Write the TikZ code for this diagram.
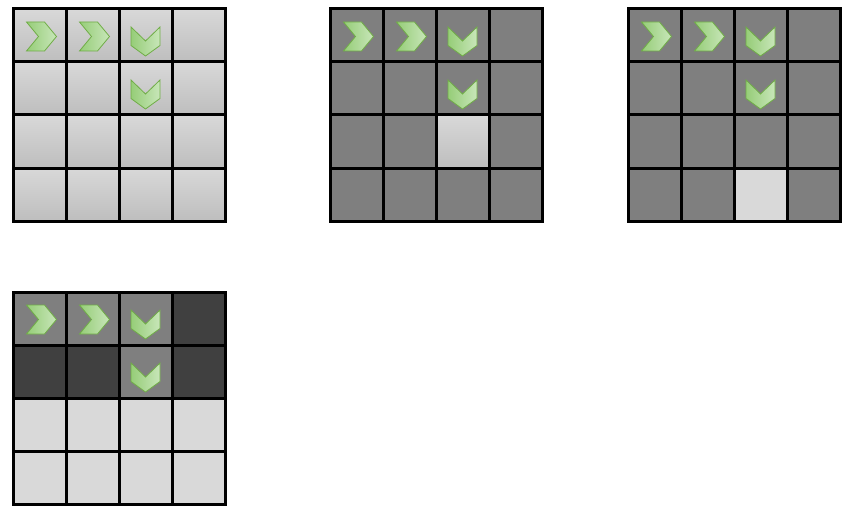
\documentclass[tikz,border=0pt]{standalone}
\usepackage{tikz}
\usetikzlibrary{positioning}
\usepackage{xcolor}
\definecolor{lightcell}{RGB}{217,217,217}
\definecolor{shadetop}{RGB}{216,216,216}
\definecolor{shadebot}{RGB}{190,190,190}
\definecolor{midcell}{RGB}{127,127,127}
\definecolor{darkcell}{RGB}{64,64,64}
\definecolor{chevline}{RGB}{112,173,71}
\definecolor{chevdark}{RGB}{150,205,120}
\definecolor{chevlight}{RGB}{200,230,185}

\begin{document}
\begin{tikzpicture}[x=1pt,y=-1pt, cell/.style={rectangle,draw,line width=3pt,minimum size=53pt,inner sep=0pt}, shaded cell/.style={cell,top color=shadetop,bottom color=shadebot}, chev/.style={draw=chevline,line width=.8pt,left color=chevdark,right color=chevlight}]
  \useasboundingbox (0,0) rectangle (854,516);
  % grid a: shaded
  \foreach \r in {1,...,4} \foreach \c in {1,...,4}
    \node[shaded cell] (a-\r-\c) at (-13.5+53*\c,-17.5+53*\r) {};
  % grid b: gray, one shaded
  \foreach \r in {1,...,4} \foreach \c in {1,...,4}
    \node[cell,fill=midcell] (b-\r-\c) at (303.5+53*\c,-17.5+53*\r) {};
  \node[shaded cell] (b-hl) at (b-3-3) {};
  % grid c: gray, one light
  \foreach \r in {1,...,4} \foreach \c in {1,...,4}
    \node[cell,fill=midcell] (c-\r-\c) at (601.5+53*\c,-17.5+53*\r) {};
  \node[cell,fill=lightcell] (c-hl) at (c-4-3) {};
  % grid d
  \foreach \r/\c/\s in {1/1/midcell,1/2/midcell,1/3/midcell,1/4/darkcell,2/1/darkcell,2/2/darkcell,2/3/midcell,2/4/darkcell}
    \node[cell,fill=\s] (d-\r-\c) at (-13.5+53*\c,265.5+53*\r) {};
  \foreach \r in {3,4} \foreach \c in {1,...,4}
    \node[cell,fill=lightcell] (d-\r-\c) at (-13.5+53*\c,265.5+53*\r) {};
  % chevrons
  \foreach \g in {a,b,c,d} {
    \foreach \n in {1-1,1-2}
      \draw[chev,shift={(\g-\n.center)}] (-13,-13.5) -- (5,-13.5) -- (17,1) -- (5,15.5) -- (-13,15.5) -- (-1,1) -- cycle;
    \foreach \n in {1-3,2-3}
      \draw[chev,shift={(\g-\n.center)}] (-14.5,-8.5) -- (0,5.5) -- (14.5,-8.5) -- (14.5,10) -- (0,20.5) -- (-14.5,10) -- cycle;
  }
\end{tikzpicture}
\end{document}
